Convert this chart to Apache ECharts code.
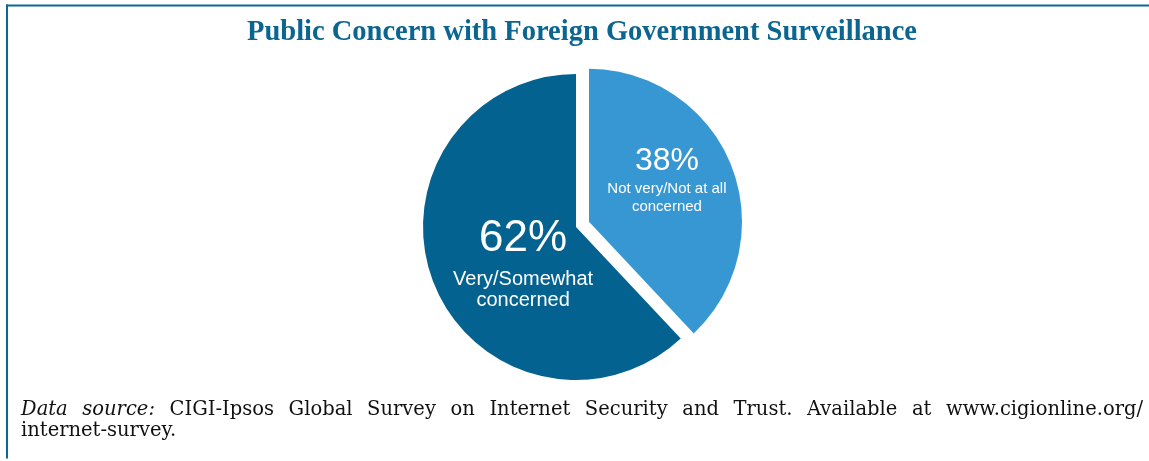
<!DOCTYPE html>
<html>
<head>
<meta charset="utf-8">
<script src="https://cdn.jsdelivr.net/npm/echarts@6/dist/echarts.min.js"></script>
<style>
html,body{margin:0;padding:0;background:#fff;}
#chart{width:1149px;height:461px;}
</style>
</head>
<body>
<div id="chart"></div>
<script>
// ---- data ----
var titleText = 'Public Concern with Foreign Government Surveillance';
var sliceNames = ['Not very/Not at all\nconcerned', 'Very/Somewhat\nconcerned'];
var sliceValues = [38, 62];
var sliceColors = ['#3797d3', '#03628f'];
var sourceItalic = 'Data source:';
var sourceLine1 = 'CIGI-Ipsos Global Survey on Internet Security and Trust. Available at www.cigionline.org/';
var sourceLine2 = 'internet-survey.';

var chart = echarts.init(document.getElementById('chart'), null, {renderer: 'canvas'});

// justified footer line built from words
var FOOT_FONT = 'DejaVu Serif';
var FOOT_SIZE = 19.5;
var ctx = document.createElement('canvas').getContext('2d');
function w(text, italic) {
  ctx.font = (italic ? 'italic ' : '') + FOOT_SIZE + 'px "' + FOOT_FONT + '"';
  return ctx.measureText(text).width;
}
var words = sourceItalic.split(' ').map(function (t) { return {t: t, it: true}; })
  .concat(sourceLine1.split(' ').map(function (t) { return {t: t, it: false}; }));
var x0 = 21, x1 = 1143;
var natural = 0;
words.forEach(function (o) { o.w = w(o.t, o.it); natural += o.w; });
natural += w(' ', false) * (words.length - 1);
var sx = Math.min(1, (x1 - x0) / natural);
var total = 0;
words.forEach(function (o) { total += o.w * sx; });
var gap = (x1 - x0 - total) / (words.length - 1);
var footerEls = [];
var cx = x0;
words.forEach(function (o) {
  footerEls.push({
    type: 'text', x: cx, y: 409.5, scaleX: sx, silent: true,
    style: {text: o.t, fill: '#111', font: (o.it ? 'italic ' : '') + FOOT_SIZE + 'px "' + FOOT_FONT + '"',
      textAlign: 'left', verticalAlign: 'middle'}
  });
  cx += o.w * sx + gap;
});
footerEls.push({
  type: 'text', x: x0, y: 430.5, scaleX: sx, silent: true,
  style: {text: sourceLine2, fill: '#111', font: FOOT_SIZE + 'px "' + FOOT_FONT + '"',
    textAlign: 'left', verticalAlign: 'middle'}
});

var labelShift = [[4, -13], [21, 4]];

var option = {
  animation: false,
  graphic: [
    {type: 'rect', shape: {x: 6, y: 4.5, width: 1143, height: 2}, style: {fill: '#0b6894'}, silent: true},
    {type: 'rect', shape: {x: 6, y: 4.5, width: 2, height: 454}, style: {fill: '#0b6894'}, silent: true},
    {type: 'text', x: 582, y: 33, silent: true,
      style: {text: titleText, fill: '#0a6690', font: 'bold 28.5px "Liberation Serif"', textAlign: 'center', verticalAlign: 'middle'}}
  ].concat(footerEls),
  series: [{
    type: 'pie',
    center: [576, 227],
    radius: [0, 153],
    startAngle: 90,
    clockwise: true,
    selectedMode: 'single',
    selectedOffset: 14,
    emphasis: {disabled: true},
    itemStyle: {borderWidth: 0},
    labelLine: {show: false},
    label: {
      show: true,
      position: 'inside',
      color: '#fff',
      fontFamily: 'Liberation Sans',
      formatter: '{p|{c}%}\n{n|{b}}'
    },
    labelLayout: function (params) {
      var s = labelShift[params.dataIndex];
      return {dx: s[0], dy: s[1]};
    },
    data: sliceValues.map(function (v, i) {
      var big = i === 1;
      return {
        value: v, name: sliceNames[i], selected: i === 0,
        itemStyle: {color: sliceColors[i]},
        label: {rich: {
          p: {fontSize: big ? 44 : 32, lineHeight: big ? 60 : 36, color: '#fff', fontFamily: 'Liberation Sans'},
          n: {fontSize: big ? 20 : 15, lineHeight: big ? 21 : 18, color: '#fff', fontFamily: 'Liberation Sans'}
        }}
      };
    })
  }]
};
chart.setOption(option);
</script>
</body>
</html>
